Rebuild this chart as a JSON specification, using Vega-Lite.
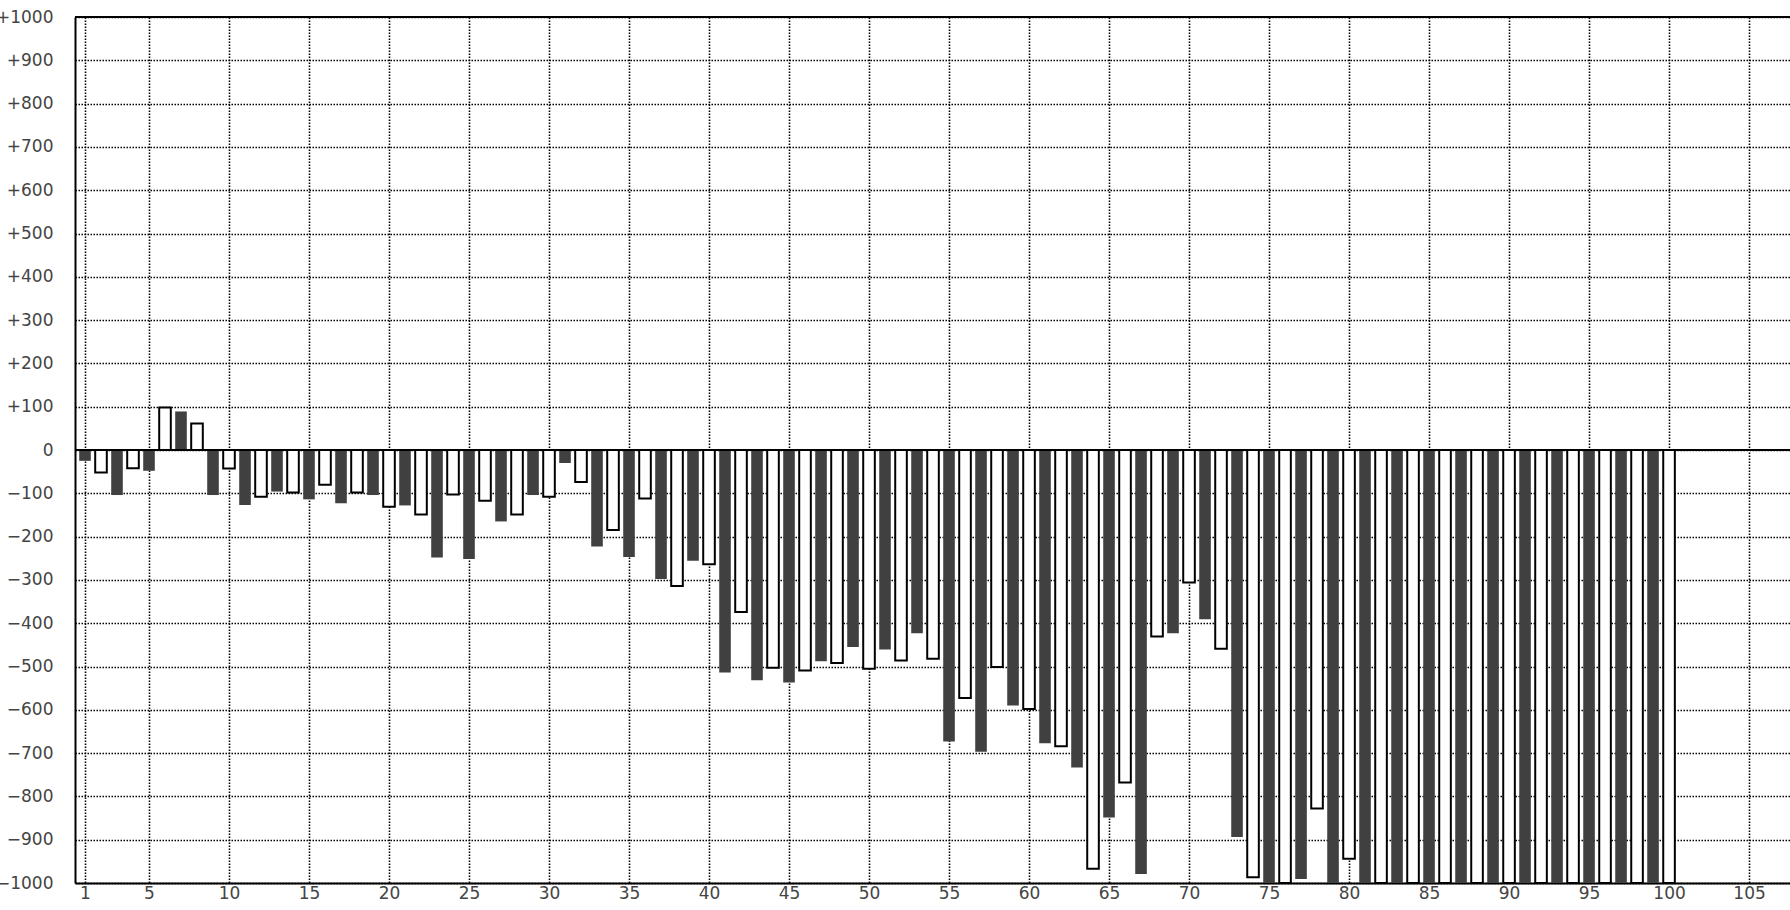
{
  "$schema": "https://vega.github.io/schema/vega-lite/v6.json",
  "width": 1715,
  "height": 866,
  "autosize": {"type": "none"},
  "padding": {"left": 75, "top": 17, "right": 0, "bottom": 27},
  "background": "white",
  "config": {
    "view": {"stroke": null},
    "axis": {"labelFont": "DejaVu Sans", "labelFontSize": 17, "labelColor": "#444444"}
  },
  "data": {
    "values": [
      {"n": 1, "v": -25, "group": "odd"}, {"n": 2, "v": -52, "group": "even"},
      {"n": 3, "v": -104, "group": "odd"}, {"n": 4, "v": -42, "group": "even"},
      {"n": 5, "v": -48, "group": "odd"}, {"n": 6, "v": 98, "group": "even"},
      {"n": 7, "v": 89, "group": "odd"}, {"n": 8, "v": 61, "group": "even"},
      {"n": 9, "v": -104, "group": "odd"}, {"n": 10, "v": -43, "group": "even"},
      {"n": 11, "v": -127, "group": "odd"}, {"n": 12, "v": -108, "group": "even"},
      {"n": 13, "v": -96, "group": "odd"}, {"n": 14, "v": -98, "group": "even"},
      {"n": 15, "v": -114, "group": "odd"}, {"n": 16, "v": -80, "group": "even"},
      {"n": 17, "v": -123, "group": "odd"}, {"n": 18, "v": -98, "group": "even"},
      {"n": 19, "v": -104, "group": "odd"}, {"n": 20, "v": -131, "group": "even"},
      {"n": 21, "v": -128, "group": "odd"}, {"n": 22, "v": -149, "group": "even"},
      {"n": 23, "v": -248, "group": "odd"}, {"n": 24, "v": -103, "group": "even"},
      {"n": 25, "v": -252, "group": "odd"}, {"n": 26, "v": -117, "group": "even"},
      {"n": 27, "v": -165, "group": "odd"}, {"n": 28, "v": -149, "group": "even"},
      {"n": 29, "v": -104, "group": "odd"}, {"n": 30, "v": -108, "group": "even"},
      {"n": 31, "v": -30, "group": "odd"}, {"n": 32, "v": -74, "group": "even"},
      {"n": 33, "v": -223, "group": "odd"}, {"n": 34, "v": -185, "group": "even"},
      {"n": 35, "v": -247, "group": "odd"}, {"n": 36, "v": -112, "group": "even"},
      {"n": 37, "v": -298, "group": "odd"}, {"n": 38, "v": -314, "group": "even"},
      {"n": 39, "v": -256, "group": "odd"}, {"n": 40, "v": -264, "group": "even"},
      {"n": 41, "v": -514, "group": "odd"}, {"n": 42, "v": -374, "group": "even"},
      {"n": 43, "v": -532, "group": "odd"}, {"n": 44, "v": -503, "group": "even"},
      {"n": 45, "v": -537, "group": "odd"}, {"n": 46, "v": -509, "group": "even"},
      {"n": 47, "v": -488, "group": "odd"}, {"n": 48, "v": -492, "group": "even"},
      {"n": 49, "v": -455, "group": "odd"}, {"n": 50, "v": -505, "group": "even"},
      {"n": 51, "v": -461, "group": "odd"}, {"n": 52, "v": -486, "group": "even"},
      {"n": 53, "v": -423, "group": "odd"}, {"n": 54, "v": -482, "group": "even"},
      {"n": 55, "v": -673, "group": "odd"}, {"n": 56, "v": -573, "group": "even"},
      {"n": 57, "v": -697, "group": "odd"}, {"n": 58, "v": -501, "group": "even"},
      {"n": 59, "v": -590, "group": "odd"}, {"n": 60, "v": -598, "group": "even"},
      {"n": 61, "v": -677, "group": "odd"}, {"n": 62, "v": -684, "group": "even"},
      {"n": 63, "v": -733, "group": "odd"}, {"n": 64, "v": -967, "group": "even"},
      {"n": 65, "v": -849, "group": "odd"}, {"n": 66, "v": -768, "group": "even"},
      {"n": 67, "v": -979, "group": "odd"}, {"n": 68, "v": -431, "group": "even"},
      {"n": 69, "v": -423, "group": "odd"}, {"n": 70, "v": -306, "group": "even"},
      {"n": 71, "v": -391, "group": "odd"}, {"n": 72, "v": -459, "group": "even"},
      {"n": 73, "v": -894, "group": "odd"}, {"n": 74, "v": -987, "group": "even"},
      {"n": 75, "v": -1000, "group": "odd"}, {"n": 76, "v": -1000, "group": "even"},
      {"n": 77, "v": -991, "group": "odd"}, {"n": 78, "v": -828, "group": "even"},
      {"n": 79, "v": -1000, "group": "odd"}, {"n": 80, "v": -944, "group": "even"},
      {"n": 81, "v": -1000, "group": "odd"}, {"n": 82, "v": -1000, "group": "even"},
      {"n": 83, "v": -1000, "group": "odd"}, {"n": 84, "v": -1000, "group": "even"},
      {"n": 85, "v": -1000, "group": "odd"}, {"n": 86, "v": -1000, "group": "even"},
      {"n": 87, "v": -1000, "group": "odd"}, {"n": 88, "v": -1000, "group": "even"},
      {"n": 89, "v": -1000, "group": "odd"}, {"n": 90, "v": -1000, "group": "even"},
      {"n": 91, "v": -1000, "group": "odd"}, {"n": 92, "v": -1000, "group": "even"},
      {"n": 93, "v": -1000, "group": "odd"}, {"n": 94, "v": -1000, "group": "even"},
      {"n": 95, "v": -1000, "group": "odd"}, {"n": 96, "v": -1000, "group": "even"},
      {"n": 97, "v": -1000, "group": "odd"}, {"n": 98, "v": -1000, "group": "even"},
      {"n": 99, "v": -1000, "group": "odd"}, {"n": 100, "v": -1000, "group": "even"}
    ]
  },
  "layer": [
    {
      "mark": {"type": "bar", "width": 11.6, "strokeWidth": 2, "clip": true},
      "encoding": {
        "x": {
          "field": "n", "type": "quantitative",
          "scale": {"domain": [0.375, 107.56], "nice": false, "zero": false, "padding": 0},
          "axis": {
            "title": null,
            "values": [1, 5, 10, 15, 20, 25, 30, 35, 40, 45, 50, 55, 60, 65, 70, 75, 80, 85, 90, 95, 100, 105],
            "grid": true, "gridColor": "#000000", "gridDash": [1.5, 1.5], "gridWidth": 1.6, "gridOpacity": 1,
            "ticks": false, "domain": true, "domainColor": "#000000", "domainWidth": 2,
            "labelPadding": 2, "labelFlush": false, "labelOverlap": false
          }
        },
        "y": {
          "field": "v", "type": "quantitative",
          "scale": {"domain": [-1000, 1000], "nice": false, "padding": 0},
          "axis": {
            "title": null,
            "values": [-1000, -900, -800, -700, -600, -500, -400, -300, -200, -100, 0, 100, 200, 300, 400, 500, 600, 700, 800, 900, 1000],
            "format": "d",
            "labelExpr": "datum.value > 0 ? '+' + datum.label : datum.label",
            "grid": true, "gridColor": "#000000", "gridDash": [1.5, 1.5], "gridWidth": 1.6, "gridOpacity": 1,
            "ticks": false, "domain": true, "domainColor": "#000000", "domainWidth": 2,
            "labelPadding": 22, "labelFlush": false, "labelOverlap": false
          }
        },
        "fill": {"field": "group", "type": "nominal", "scale": {"domain": ["odd", "even"], "range": ["#404040", "#ffffff"]}, "legend": null},
        "stroke": {"field": "group", "type": "nominal", "scale": {"domain": ["odd", "even"], "range": ["transparent", "#000000"]}, "legend": null}
      }
    },
    {
      "mark": {"type": "rule", "color": "#000000", "strokeWidth": 2},
      "encoding": {"y": {"datum": 0}}
    },
    {
      "mark": {"type": "rule", "color": "#000000", "strokeWidth": 2},
      "encoding": {"y": {"datum": 1000}}
    }
  ]
}
